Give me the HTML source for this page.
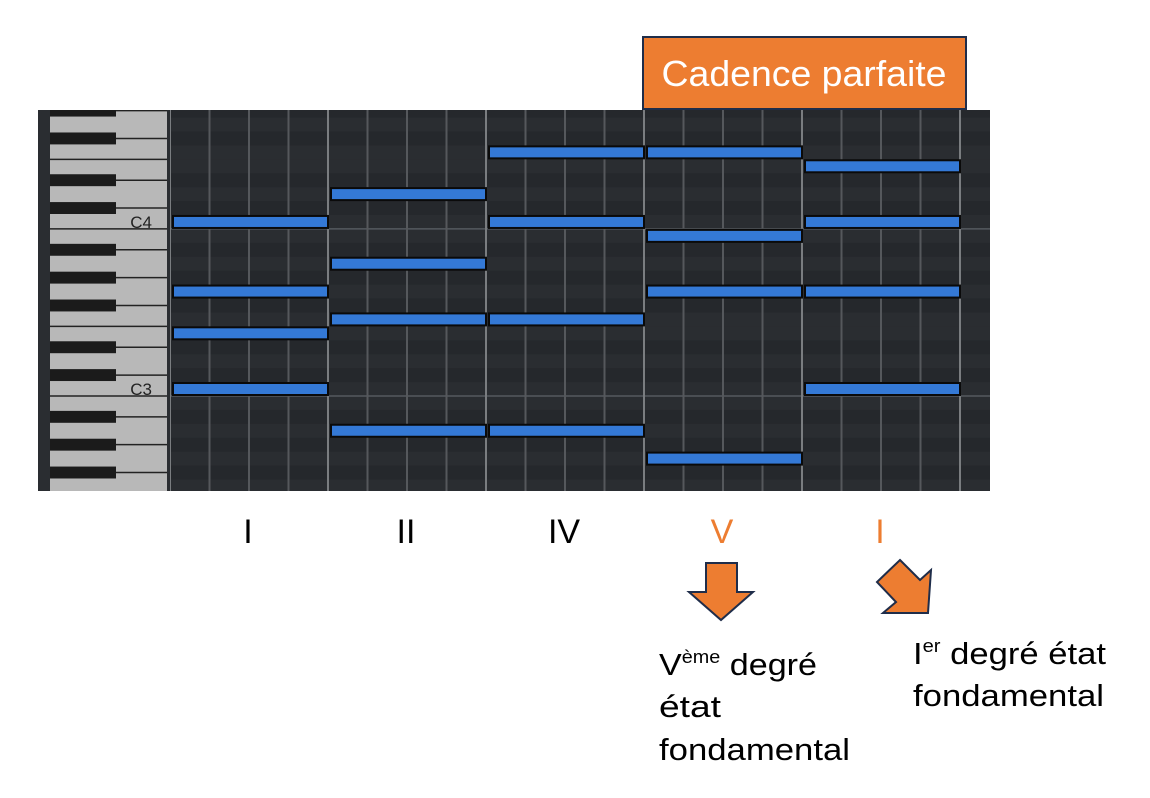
<!DOCTYPE html>
<html><head><meta charset="utf-8"><style>
body{margin:0;background:#fff;width:1150px;height:798px;overflow:hidden;font-family:"Liberation Sans",sans-serif}
svg{display:block}
</style></head><body>
<svg id="c" width="1150" height="798" viewBox="0 0 1150 798">
<rect x="643" y="37" width="323" height="72" fill="#ED7D31" stroke="#1F2D4A" stroke-width="2"/>
<text x="804" y="86" text-anchor="middle" font-size="36" fill="#fff" textLength="285" lengthAdjust="spacingAndGlyphs">Cadence parfaite</text>
<g id="roll"></g>
<g id="labels"></g>
<polygon points="706,563 737,563 737,592 753,592 721,620 689,592 706,592" fill="#ED7D31" stroke="#1F2D4A" stroke-width="2"/>
<polygon points="900,560 920,580 931,570 928,613 883,613 896,602 877,582" fill="#ED7D31" stroke="#1F2D4A" stroke-width="2"/>
<g font-size="31" fill="#000">
<text x="659" y="675" textLength="158" lengthAdjust="spacingAndGlyphs">V<tspan font-size="18" dy="-12">ème</tspan><tspan dy="12"> degré</tspan></text>
<text x="659" y="717" textLength="62" lengthAdjust="spacingAndGlyphs">état</text>
<text x="659" y="760" textLength="191" lengthAdjust="spacingAndGlyphs">fondamental</text>
</g>
<g font-size="31" fill="#000">
<text x="913" y="664" textLength="193" lengthAdjust="spacingAndGlyphs">I<tspan font-size="18" dy="-12">er</tspan><tspan dy="12"> degré état</tspan></text>
<text x="913" y="706" textLength="191" lengthAdjust="spacingAndGlyphs">fondamental</text>
</g>
</svg>
<script>
const chordNames = ["I","II","IV","V","I"];
const chordColors = ["#000","#000","#000","#ED7D31","#ED7D31"];
// pitches in semitones relative to C3
const chord1 = [0,4,7,12];
const chord2 = [-3,5,9,14];
const chord3 = [-3,5,12,17];
const chord4 = [-5,7,11,17];
const chord5 = [0,7,12,16];
const chords = [chord1,chord2,chord3,chord4,chord5];
const keyLabels = ["C3","C4"];
const keyLabelPitches = [0,12];

const NS="http://www.w3.org/2000/svg";
const roll=document.getElementById('roll'), labels=document.getElementById('labels');
const c3y=389, semi=13.92, gx0=170, colW=158, beats=4;
const rollTop=110, rollBot=491;
const y=p=>c3y-p*semi;
const x=b=>gx0+b*colW;
function mk(tag,a,parent){const e=document.createElementNS(NS,tag);for(const k in a)e.setAttribute(k,a[k]);parent.appendChild(e);return e;}
const isBlack=p=>[1,3,6,8,10].includes(((p%12)+12)%12);

let bg=mk('rect',{x:38,y:rollTop,width:952,height:rollBot-rollTop,fill:'#2a2d31'},roll);


const defs=mk('clipPath',{id:'cl'},roll);mk('rect',{x:38,y:rollTop,width:952,height:rollBot-rollTop},defs);
const g=mk('g',{'clip-path':'url(#cl)'},roll);
for(let p=-9;p<=22;p++){
  const r=mk('rect',{x:168,y:y(p)-semi/2,width:822,height:semi,fill:isBlack(p)?'#25282c':'#2a2d31'},g);
  
  
  const m=((p%12)+12)%12;
  if(m===0) mk('line',{x1:168,x2:990,y1:y(p)+semi/2,y2:y(p)+semi/2,stroke:'#555a5f','stroke-width':1.5},g);
}
for(let i=0;i<=chords.length*beats;i++){
  const xx=gx0+i*colW/beats, meas=i%beats===0;
  const l=mk('line',{x1:xx,x2:xx,y1:rollTop,y2:rollBot,stroke:meas?'#7a7d80':'#55585c','stroke-width':2},g);
  
  
}
mk('rect',{x:38,y:rollTop,width:12,height:rollBot-rollTop,fill:'#2a2d31'},g);
mk('rect',{x:50,y:rollTop,width:117,height:rollBot-rollTop,fill:'#b8b8b8'},g);
mk('rect',{x:167,y:rollTop,width:3,height:rollBot-rollTop,fill:'#2a2d31'},g);
for(let p=-9;p<=22;p++){
  const m=((p%12)+12)%12;
  if(isBlack(p)){
    const k=mk('rect',{x:50,y:y(p)-semi/2+1,width:66,height:semi-2,fill:'#1b1b1b'},g);
    
    
    mk('line',{x1:116,x2:167,y1:y(p),y2:y(p),stroke:'#222','stroke-width':1.5},g);
  }
  if(m===0||m===5){
    mk('line',{x1:50,x2:167,y1:y(p)+semi/2,y2:y(p)+semi/2,stroke:'#222','stroke-width':1.5},g);
  }
}
keyLabels.forEach((t,i)=>{
  const tx=mk('text',{x:152,y:y(keyLabelPitches[i])+6,'text-anchor':'end','font-size':17,fill:'#222'},g);
  tx.textContent=t;
  
  
});
chords.forEach((ch,ci)=>{
  ch.forEach(p=>{
    const n=mk('rect',{x:x(ci)+3,y:y(p)-6,width:colW-3,height:12,fill:'#3479d6',stroke:'#0a0a0a','stroke-width':2},g);
    
    
  });
  const t=mk('text',{x:x(ci)+colW/2-1,y:543,'text-anchor':'middle','font-size':34,fill:chordColors[ci]},labels);
  t.textContent=chordNames[ci];
  
  
});
</script>
</body></html>
